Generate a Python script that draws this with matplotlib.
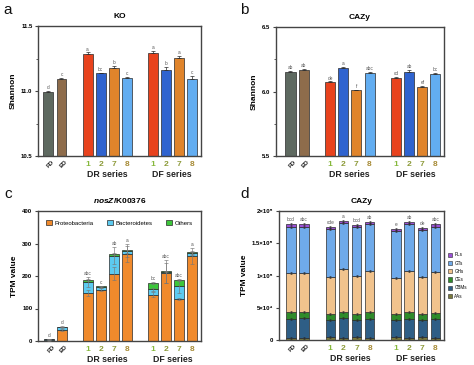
import matplotlib
matplotlib.use("Agg")
import matplotlib.pyplot as plt
import matplotlib.transforms as mtransforms
from matplotlib.patches import Patch
import numpy as np

plt.rcParams['font.family'] = ['Liberation Sans', 'DejaVu Sans']
plt.rcParams['mathtext.fontset'] = 'custom'
plt.rcParams['mathtext.it'] = 'Liberation Sans:italic:bold'
plt.rcParams['mathtext.rm'] = 'Liberation Sans:bold'

# ---------------- data ----------------
categories = ["FD", "ED", "1", "2", "7", "8", "1", "2", "7", "8"]
groups = ["DR series", "DF series"]

ko_shannon = [10.995, 11.095, 11.285, 11.135, 11.175, 11.100, 11.295, 11.165, 11.255, 11.095]
ko_err = [0.004, 0.005, 0.012, 0.006, 0.018, 0.006, 0.012, 0.022, 0.015, 0.020]
ko_letters = ["d", "c", "a", "bc", "b", "c", "a", "b", "a", "c"]

cazy_shannon = [6.155, 6.170, 6.070, 6.185, 6.008, 6.140, 6.105, 6.155, 6.038, 6.132]
cazy_err = [0.004, 0.004, 0.008, 0.004, 0.003, 0.015, 0.006, 0.012, 0.006, 0.010]
cazy_letters = ["ab", "ab", "de", "a", "f", "abc", "cd", "ab", "ef", "bc"]

nosz_proteobacteria = [2, 33, 147, 158, 207, 268, 143, 210, 130, 262]
nosz_bacteroidetes = [3, 11, 34, 9, 56, 8, 16, 3, 39, 8]
nosz_others = [0, 0, 7, 1, 4, 3, 19, 1, 20, 3]
nosz_err_p = [1, 3, 10, 5, 20, 25, 8, 30, 3, 25]
nosz_err_b = [1, 3, 15, 3, 25, 5, 5, 35, 20, 5]
nosz_err_o = [0, 0, 3, 1, 3, 20, 3, 2, 3, 4]
nosz_letters = ["d", "d", "abc", "c", "ab", "a", "bc", "abc", "abc", "a"]

cazy_AAs = [3000, 3000, 5000, 3500, 5000, 3500, 4500, 3500, 5000, 3500]
cazy_CBMs = [29500, 31000, 26400, 30000, 26400, 29500, 26900, 29500, 26400, 29000]
cazy_CEs = [10200, 10000, 9300, 9800, 9300, 9700, 9300, 9700, 9300, 9600]
cazy_GHs = [61800, 60500, 56700, 66700, 59200, 64900, 55600, 64900, 56700, 63300]
cazy_GTs = [71200, 71200, 74200, 71000, 74800, 72200, 72200, 72200, 72800, 69700]
cazy_PLs = [3700, 4200, 4100, 4000, 3300, 3600, 4100, 3800, 3500, 4200]
cazy_letters_d = ["bcd", "abc", "cde", "a", "bcd", "ab", "e", "ab", "de", "abc"]

positions = [0, 1, 3, 4, 5, 6, 8, 9, 10, 11]
bar_colors = ["#5e6960", "#8e6c4b", "#e8421d", "#2f63cf", "#e0842b", "#62adf1",
              "#e8421d", "#2f63cf", "#e0842b", "#62adf1"]
num_colors = {"1": "#86b83c", "2": "#8c9a38", "7": "#8e9a3a", "8": "#a88c38"}

W, H = 474, 365
fig = plt.figure(figsize=(W / 100, H / 100), dpi=100)


def px_axes(l, t, r, b):
    return fig.add_axes([l / W, 1 - b / H, (r - l) / W, (b - t) / H])


ax_a = px_axes(38, 26, 201, 156)
ax_b = px_axes(276, 27, 444, 156)
ax_c = px_axes(38, 211, 201, 341)
ax_d = px_axes(279, 211, 444, 340)

edge = "#2a2a2a"
spine_col = "#444444"
letter_col = "#555555"


def style_axes(ax, xlim, title, ylabel):
    for s in ax.spines.values():
        s.set_color(spine_col)
        s.set_linewidth(1.0)
    ax.set_xlim(*xlim)
    ax.set_xticks([])
    ax.tick_params(axis='y', labelsize=4.3, width=0.8, length=2.5, color=spine_col, pad=1.5)
    for lab in ax.get_yticklabels():
        lab.set_fontweight('bold')
    ax.set_ylabel(ylabel, fontsize=6, fontweight='bold', labelpad=3)
    if title is not None:
        ax.set_title(title, fontsize=6, fontweight='bold', pad=6)
    trans = mtransforms.blended_transform_factory(ax.transData, ax.transAxes)
    for x, c in zip(positions, categories):
        if c in ("FD", "ED"):
            ax.text(x + 0.25, -0.025, c, transform=trans, rotation=45, ha='right', va='top',
                    rotation_mode='anchor', fontsize=4.5, fontweight='bold', color="#222222")
        else:
            ax.text(x, -0.035, c, transform=trans, ha='center', va='top', fontsize=6,
                    color=num_colors[c], fontweight='bold')
    ax.text(4.5, -0.11, groups[0], transform=trans, ha='center', va='top', fontsize=6.3,
            fontweight='bold', color="#222222")
    ax.text(9.5, -0.11, groups[1], transform=trans, ha='center', va='top', fontsize=6.3,
            fontweight='bold', color="#222222")


def add_letters(ax, xs, tops, letters, off):
    for x, t, l in zip(xs, tops, letters):
        ax.text(x, t + off, l, ha='center', va='bottom', fontsize=3.4, color=letter_col)


# ---------- panel a ----------
ax_a.bar(positions, np.array(ko_shannon) - 10.5, bottom=10.5, width=0.76, color=bar_colors,
         edgecolor=edge, linewidth=0.5, zorder=2)
ax_a.errorbar(positions, ko_shannon, yerr=[np.zeros(10), ko_err], fmt='none', ecolor=edge,
              elinewidth=0.5, capsize=1.2, capthick=0.5, zorder=3)
ax_a.set_ylim(10.5, 11.5)
ax_a.set_yticks([10.5, 11.0, 11.5])
ax_a.set_yticks([10.75, 11.25], minor=True)
ax_a.tick_params(axis='y', which='minor', length=1.5, width=0.6, color=spine_col)
style_axes(ax_a, (-0.8, 11.7), "KO", "Shannon")
add_letters(ax_a, positions, np.array(ko_shannon) + np.array(ko_err), ko_letters, 0.006)

# ---------- panel b ----------
ax_b.bar(positions, np.array(cazy_shannon) - 5.5, bottom=5.5, width=0.76, color=bar_colors,
         edgecolor=edge, linewidth=0.5, zorder=2)
ax_b.errorbar(positions, cazy_shannon, yerr=[np.zeros(10), cazy_err], fmt='none', ecolor=edge,
              elinewidth=0.5, capsize=1.2, capthick=0.5, zorder=3)
ax_b.set_ylim(5.5, 6.5)
ax_b.set_yticks([5.5, 6.0, 6.5])
ax_b.set_yticks([5.75, 6.25], minor=True)
ax_b.tick_params(axis='y', which='minor', length=1.5, width=0.6, color=spine_col)
style_axes(ax_b, (-1.1, 11.65), "CAZy", "Shannon")
add_letters(ax_b, positions, np.array(cazy_shannon) + np.array(cazy_err), cazy_letters, 0.006)

# ---------- panel c ----------
p = np.array(nosz_proteobacteria, float)
b = np.array(nosz_bacteroidetes, float)
o = np.array(nosz_others, float)
c_prot, c_bact, c_oth = "#f08a2c", "#5ccaf0", "#3cc63a"
ax_c.bar(positions, p, width=0.72, color=c_prot, edgecolor=edge, linewidth=0.5, zorder=2)
ax_c.bar(positions, b, bottom=p, width=0.72, color=c_bact, edgecolor=edge, linewidth=0.5, zorder=2)
ax_c.bar(positions, o, bottom=p + b, width=0.72, color=c_oth, edgecolor=edge, linewidth=0.5, zorder=2)
err_col = "#777777"
ax_c.errorbar(positions, p, yerr=nosz_err_p, fmt='none', ecolor=err_col, elinewidth=0.45,
              capsize=1.2, capthick=0.45, zorder=3)
ax_c.errorbar(positions, p + b, yerr=nosz_err_b, fmt='none', ecolor=err_col, elinewidth=0.45,
              capsize=1.2, capthick=0.45, zorder=3)
ax_c.errorbar(positions, p + b + o, yerr=nosz_err_o, fmt='none', ecolor=err_col, elinewidth=0.45,
              capsize=1.2, capthick=0.45, zorder=3)
ax_c.set_ylim(0, 400)
ax_c.set_yticks([0, 100, 200, 300, 400])
style_axes(ax_c, (-0.85, 11.7), r"$\mathit{nosZ}$/K00376", "TPM value")
tops_c = np.maximum.reduce([p + np.array(nosz_err_p), p + b + np.array(nosz_err_b),
                            p + b + o + np.array(nosz_err_o)])
add_letters(ax_c, positions, tops_c, nosz_letters, 3)
ax_c.legend(handles=[Patch(facecolor=c_prot, edgecolor=edge, linewidth=0.5, label="Proteobacteria"),
                     Patch(facecolor=c_bact, edgecolor=edge, linewidth=0.5, label="Bacteroidetes"),
                     Patch(facecolor=c_oth, edgecolor=edge, linewidth=0.5, label="Others")],
            loc='upper center', ncol=3, frameon=False, fontsize=4.3, handlelength=1.0,
            handleheight=0.9, handletextpad=0.5, columnspacing=2.2, bbox_to_anchor=(0.5, 0.97))

# ---------- panel d ----------
layers = [("AAs", cazy_AAs, "#7b7a3b"), ("CBMs", cazy_CBMs, "#2e5e86"),
          ("CEs", cazy_CEs, "#2f8b2a"), ("GHs", cazy_GHs, "#f1c38d"),
          ("GTs", cazy_GTs, "#6faaea"), ("PLs", cazy_PLs, "#9b50d6")]
bottom = np.zeros(10)
handles = []
for name, vals, col in layers:
    v = np.array(vals, float)
    ax_d.bar(positions, v, bottom=bottom, width=0.72, color=col, edgecolor=edge, linewidth=0.5,
             zorder=2)
    bottom = bottom + v
    ax_d.errorbar(positions, bottom, yerr=1500, fmt='none', ecolor=edge, elinewidth=0.4,
                  capsize=1.0, capthick=0.4, zorder=3)
    handles.append(Patch(facecolor=col, edgecolor=edge, linewidth=0.4, label=name))
ax_d.set_ylim(0, 200000)
ax_d.set_yticks([0, 50000, 100000, 150000, 200000])
ax_d.set_yticklabels(["0", "5×10⁴", "1×10⁵", "1.5×10⁵", "2×10⁵"])
style_axes(ax_d, (-0.9, 11.65), "CAZy", "TPM value")
add_letters(ax_d, positions, bottom + 1500, cazy_letters_d, 1500)
ax_d.legend(handles=handles[::-1], loc='center left', bbox_to_anchor=(1.005, 0.5), frameon=False,
            fontsize=3.3, handlelength=1.0, handleheight=1.0, handletextpad=0.5, labelspacing=0.7,
            borderaxespad=0.2)

# panel letters
for lab, x, y in [("a", 3, 10), ("b", 240, 10), ("c", 4, 194), ("d", 240, 194)]:
    fig.text(x / W, 1 - y / H, lab, fontsize=11, ha='left', va='center', color="#111111")

fig.savefig("out.png", dpi=100)
